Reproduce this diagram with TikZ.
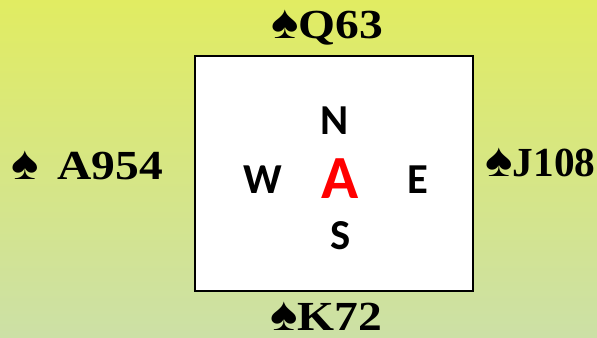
\documentclass[tikz,border=0pt]{standalone}
\usepackage{fontspec}
\usepackage{graphicx}
\setmainfont{Liberation Serif}
\newfontfamily\carl{Carlito}
\definecolor{bgtop}{RGB}{225,236,98}
\definecolor{bgbot}{RGB}{204,224,166}
\definecolor{ared}{RGB}{255,0,0}
\newcommand\spd{\scalebox{1.25}[1.15]{♠}}
\newcommand\wide[2][1.15]{\scalebox{#1}[1]{#2}}
\tikzset{
  hand/.style={font=\fontsize{31}{31}\selectfont\bfseries, inner sep=0pt, anchor=base},
  dir/.style={font=\fontsize{32}{32}\selectfont\carl\bfseries, inner sep=0pt},
}
\begin{document}
\begin{tikzpicture}[x=0.75pt,y=-0.75pt]
\shade[top color=bgtop,bottom color=bgbot] (0,0) rectangle (597,338);
\useasboundingbox (0,0) rectangle (597,338);
\node[draw=black,line width=1.5pt,fill=white,minimum width=278*0.75pt,minimum height=235*0.75pt,inner sep=0pt] (box) at (333.5,174) {};
\node[hand] (north) at (327,39) {\spd\wide{Q63}};
\node[hand,anchor=base west] (west) at (11,180) {\spd\hspace{0.45em}\wide{A954}};
\node[hand,anchor=base west] (east) at (485,177) {\spd\wide[1.0]{J108}};
\node[hand,text depth=0pt] (south) at (326,331) {\spd\wide{K72}};
\node[dir] (n) at (335,121) {N};
\node[dir] (w) at (263,180) {W};
\node[dir] (e) at (418,180) {E};
\node[dir] (s) at (341,236) {S};
\node[font=\fontsize{46}{46}\selectfont\carl\bfseries,text=ared,inner sep=0pt] (a) at (340,179) {A};
\end{tikzpicture}
\end{document}
